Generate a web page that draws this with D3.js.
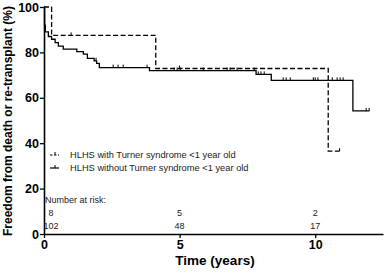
<!DOCTYPE html>
<html>
<head>
<meta charset="utf-8">
<script src="https://cdn.jsdelivr.net/npm/d3@7"></script>
<style>
body { margin: 0; background: #fff; }
svg { display: block; font-family: Arial, "Liberation Sans", sans-serif; }
</style>
</head>
<body>
<svg width="387" height="276"></svg>
<script>
// Turner group (dashed)
var turnerTimes = [0, 0.28, 4.12, 10.48];
var turnerSurv = [100, 87.5, 72.9, 36.5];
var turnerEnd = 10.9;
var turnerCensor = [1.0, 5.0, 10.9];

// Non-Turner group (solid)
var otherTimes = [0, 0.02, 0.05, 0.16, 0.28, 0.41, 0.53, 0.71, 1.21, 1.45, 1.60, 1.85, 1.94, 2.04, 3.89, 7.82, 8.38, 11.39];
var otherSurv = [100, 92, 89, 87, 85.8, 84.3, 82.8, 81.4, 80.3, 79.2, 77.4, 76.3, 75.2, 73.3, 72.0, 70.3, 67.7, 54.2];
var otherEnd = 12.0;
var otherCensor = [1.92, 2.55, 2.73, 2.92, 3.8, 4.8, 4.91, 5.02, 5.87, 6.75, 6.86, 7.12, 7.75, 7.9, 8.0, 8.12, 8.82, 8.93, 9.08, 9.93, 10.0, 10.1, 10.63, 10.81, 10.92, 11.03, 11.88, 11.99];

var xTicks = [0, 5, 10];
var yTicks = [0, 20, 40, 60, 80, 100];
var legendLabels = ["HLHS with Turner syndrome <1 year old", "HLHS without Turner syndrome <1 year old"];
var riskTimes = [0, 5, 10];
var riskTurner = [8, 5, 2];
var riskOther = [102, 48, 17];

var svg = d3.select("svg");
var x = d3.scaleLinear().domain([0, 12.5]).range([44, 383]);
var y = d3.scaleLinear().domain([0, 100]).range([234, 7]);

function stepData(times, surv, end) {
    var pts = times.map(function(t, i) { return [t, surv[i]]; });
    pts.push([end, surv[surv.length - 1]]);
    return pts;
}
function survAt(times, surv, t) {
    var s = surv[0];
    for (var i = 0; i < times.length; i++) { if (times[i] <= t) s = surv[i]; }
    return s;
}

var line = d3.line()
    .x(function(d) { return x(d[0]); })
    .y(function(d) { return y(d[1]); })
    .curve(d3.curveStepAfter);

// axes
var yAxis = svg.append("g")
    .attr("transform", "translate(44,0)")
    .call(d3.axisLeft(y).tickValues(yTicks).tickSize(4).tickSizeOuter(0));
var xAxis = svg.append("g")
    .attr("transform", "translate(0,234)")
    .call(d3.axisBottom(x).tickValues(xTicks).tickSize(4).tickSizeOuter(0));
[yAxis, xAxis].forEach(function(a) {
    a.select(".domain").attr("stroke", "#000").attr("stroke-width", 1.6);
    a.selectAll(".tick line").attr("stroke", "#000").attr("stroke-width", 1.3);
    a.selectAll(".tick text").attr("fill", "#000").attr("font-size", 12.5)
        .attr("font-weight", "bold").attr("font-family", "Arial, 'Liberation Sans', sans-serif");
});
yAxis.selectAll(".tick text").attr("x", -5);
xAxis.selectAll(".tick text").attr("y", 6);

svg.append("text")
    .attr("transform", "translate(12,121) rotate(-90)")
    .attr("text-anchor", "middle")
    .attr("font-size", 12).attr("font-weight", "bold")
    .text("Freedom from death or re-transplant (%)");
svg.append("text")
    .attr("x", 215).attr("y", 265)
    .attr("text-anchor", "middle")
    .attr("font-size", 13.5).attr("font-weight", "bold")
    .text("Time (years)");

// curves
svg.append("path")
    .datum(stepData(otherTimes, otherSurv, otherEnd))
    .attr("fill", "none").attr("stroke", "#000").attr("stroke-width", 1.3)
    .attr("d", line);
svg.append("path")
    .datum(stepData(turnerTimes, turnerSurv, turnerEnd))
    .attr("fill", "none").attr("stroke", "#000").attr("stroke-width", 1.3)
    .attr("stroke-dasharray", "5,2.5")
    .attr("d", line);

// censor ticks
svg.selectAll(".cs").data(otherCensor).enter().append("line")
    .attr("x1", function(d) { return x(d); }).attr("x2", function(d) { return x(d); })
    .attr("y1", function(d) { return y(survAt(otherTimes, otherSurv, d)); })
    .attr("y2", function(d) { return y(survAt(otherTimes, otherSurv, d)) - 3; })
    .attr("stroke", "#000").attr("stroke-width", 1);
svg.selectAll(".ct").data(turnerCensor).enter().append("line")
    .attr("x1", function(d) { return x(d); }).attr("x2", function(d) { return x(d); })
    .attr("y1", function(d) { return y(survAt(turnerTimes, turnerSurv, d)); })
    .attr("y2", function(d) { return y(survAt(turnerTimes, turnerSurv, d)) - 3; })
    .attr("stroke", "#000").attr("stroke-width", 1);

// legend
var leg = svg.append("g").attr("font-size", 9.3).attr("fill", "#222");
legendLabels.forEach(function(lbl, i) {
    var ly = 155 + i * 13;
    leg.append("line").attr("x1", 50).attr("x2", 59).attr("y1", ly).attr("y2", ly)
        .attr("stroke", "#000").attr("stroke-width", 1.2)
        .attr("stroke-dasharray", i === 0 ? "2.5,1.5" : null);
    leg.append("line").attr("x1", 55).attr("x2", 55).attr("y1", ly).attr("y2", ly - 3)
        .attr("stroke", "#000").attr("stroke-width", 1);
    leg.append("text").attr("x", 70).attr("y", ly + 3).text(lbl);
});

// number at risk
var risk = svg.append("g").attr("font-size", 9).attr("fill", "#222");
risk.append("text").attr("x", 45).attr("y", 203).text("Number at risk:");
risk.selectAll(".rt").data(riskTimes).enter().append("text")
    .attr("x", function(d) { return x(d) + (d === 0 ? 7 : 0); })
    .attr("y", 216).attr("text-anchor", "middle")
    .text(function(d, i) { return riskTurner[i]; });
risk.selectAll(".ro").data(riskTimes).enter().append("text")
    .attr("x", function(d) { return x(d) + (d === 0 ? 7 : 0); })
    .attr("y", 229).attr("text-anchor", "middle")
    .text(function(d, i) { return riskOther[i]; });
</script>
</body>
</html>
